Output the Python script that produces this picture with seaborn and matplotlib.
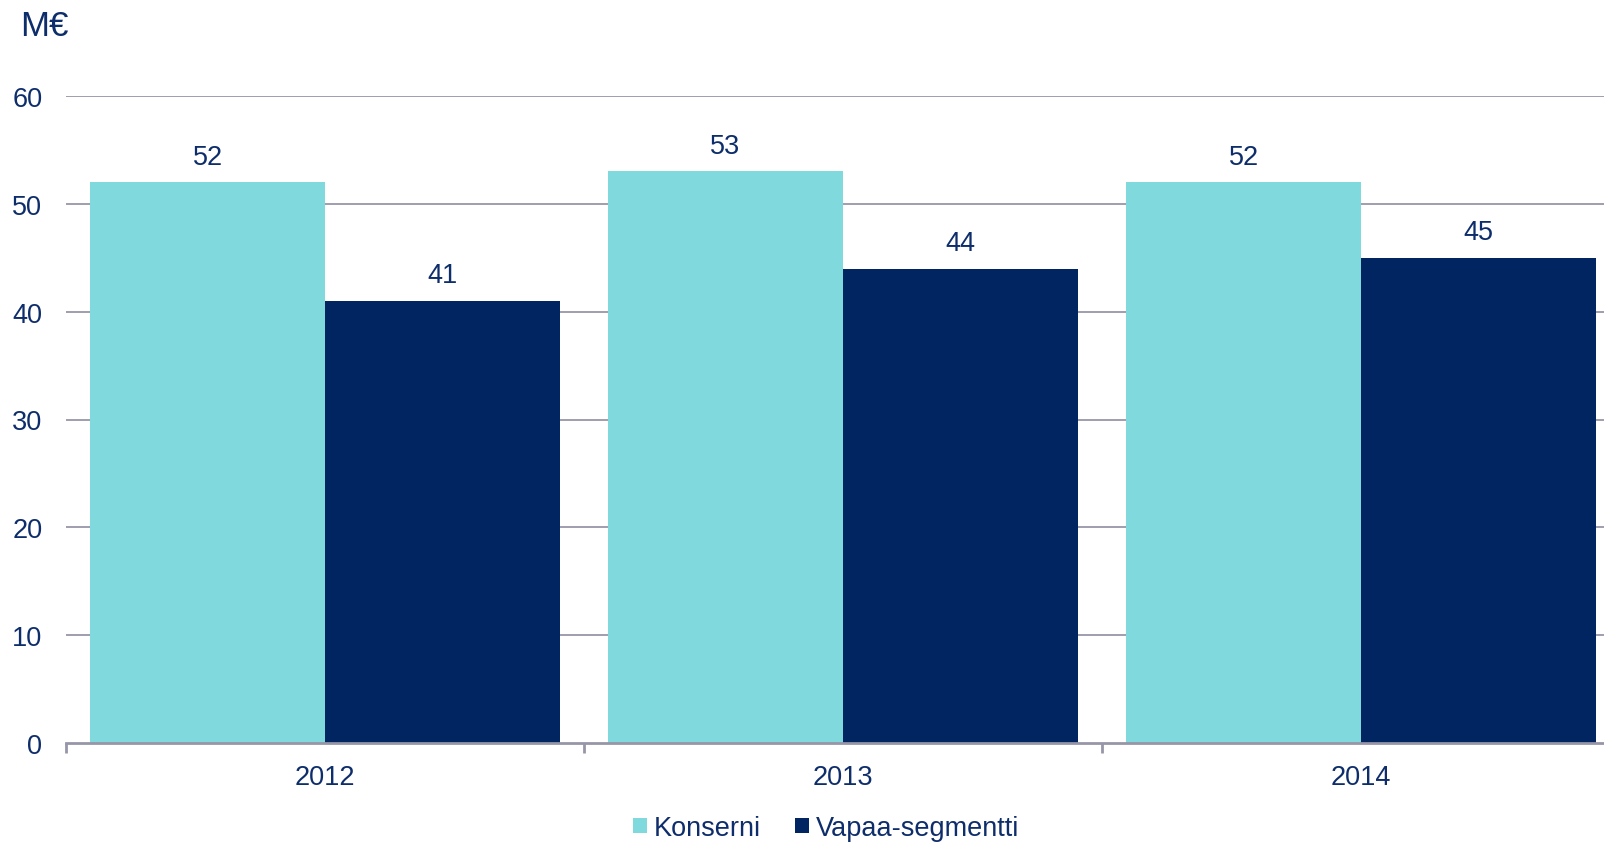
import matplotlib
matplotlib.use("Agg")
import matplotlib.pyplot as plt
from matplotlib.patches import Patch
import seaborn as sns
import pandas as pd

years = ["2012", "2013", "2014"]
series = ["Konserni", "Vapaa-segmentti"]
konserni = [52, 53, 52]
vapaa = [41, 44, 45]
yticks = [0, 10, 20, 30, 40, 50, 60]
unit_label = "M€"

colors = ["#80D9DC", "#002561"]
text_color = "#0E2D6B"
grid_color = "#9696A8"
fs = 19.5

df = pd.DataFrame({
    "Vuosi": years * 2,
    "Sarja": [series[0]] * 3 + [series[1]] * 3,
    "Arvo": konserni + vapaa,
})

sns.set_theme(style="white")
plt.rcParams["font.family"] = ["Liberation Sans", "DejaVu Sans"]

fig = plt.figure(figsize=(16.04, 8.45), dpi=100)
ax = fig.add_axes([66 / 1604, 101 / 845, 1554 / 1604, 647 / 845])

sns.barplot(data=df, x="Vuosi", y="Arvo", hue="Sarja", hue_order=series,
            order=years, palette=colors, saturation=1, width=0.907, gap=0,
            ax=ax, legend=False, errorbar=None, linewidth=0, edgecolor="none")

for cont in ax.containers:
    ax.bar_label(cont, fmt="%d", padding=9, fontsize=fs, color=text_color)

ax.set_xlim(-0.5, 2.5)
ax.set_ylim(0, 60)
ax.set_yticks(yticks)
ax.set_xlabel("")
ax.set_ylabel("")

for y in yticks[1:]:
    ax.axhline(y, color=grid_color, lw=1.3, zorder=0)

for side in ["top", "right", "left"]:
    ax.spines[side].set_visible(False)
ax.spines["bottom"].set_color(grid_color)
ax.spines["bottom"].set_linewidth(2)

ax.tick_params(axis="y", length=0, pad=17, labelsize=fs, labelcolor=text_color)
ax.tick_params(axis="x", which="major", length=0, pad=15, labelsize=fs,
               labelcolor=text_color)
ax.set_xticks([-0.5, 0.5, 1.5, 2.5], minor=True)
ax.tick_params(axis="x", which="minor", bottom=True, length=7, width=2,
               color=grid_color, direction="out")

fig.text(20 / 1604, 1 - 26 / 845, unit_label, fontsize=25, color=text_color,
         ha="left", va="center")

handles = [Patch(facecolor=c, edgecolor="none") for c in colors]
fig.legend(handles, series, loc="center", bbox_to_anchor=(826 / 1604, 1 - 829 / 845),
           ncol=2, frameon=False, fontsize=fs, labelcolor=text_color,
           handlelength=0.52, handleheight=0.52, handletextpad=0.25,
           columnspacing=1.25)

fig.savefig("out.png", dpi=100)
